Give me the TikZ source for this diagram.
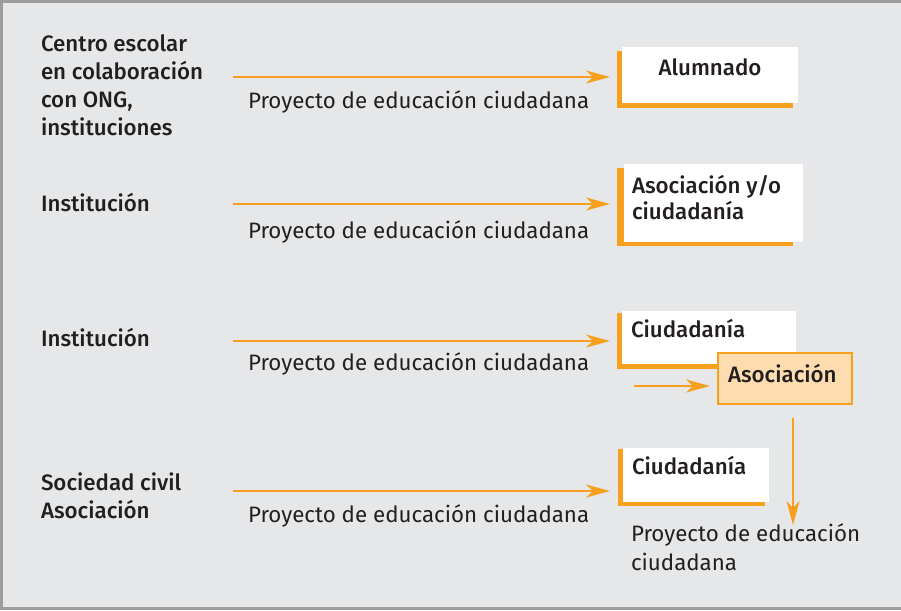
\documentclass[tikz,border=0pt]{standalone}
\usepackage{fontspec}
\setmainfont{Fira Sans}[BoldFont={Fira Sans Medium}]
\usetikzlibrary{arrows.meta}
\definecolor{org}{HTML}{F6A01E}
\definecolor{bg}{HTML}{E6E7E8}
\definecolor{frm}{HTML}{9D9D9D}
\definecolor{asoc}{HTML}{FDDCAF}
\definecolor{txt}{HTML}{231F20}
\newcommand\stk[1]{\begin{tabular}[t]{@{}l@{}}#1\end{tabular}}
\begin{document}
\begin{tikzpicture}[x=1pt,y=-1pt,
 every node/.style={inner sep=0pt, outer sep=0pt, text=txt, font=\fontsize{22.3}{28}\selectfont},
 lbl/.style={anchor=base west, font=\fontsize{22.3}{28}\selectfont\bfseries},
 btxt/.style={font=\fontsize{22.3}{26}\selectfont\bfseries},
 proj/.style={anchor=base west},
 box/.style={fill=white, anchor=north west},
 shade/.style={fill=org},
 flow/.style={draw=org, line width=2pt, -{Stealth[length=24pt,width=13pt,inset=7pt]}},
]
\useasboundingbox (0,0) rectangle (901,610);
\fill[bg] (0,0) rectangle (901,610);
\draw[frm, line width=3pt] (901,1.5) -- (1.5,1.5) -- (1.5,608.5) -- (901,608.5);

% boxes
\fill[shade] (617,51) rectangle (793,108);
\node[box, minimum width=176pt, minimum height=56pt] (b1) at (622,47) {};
\fill[shade] (617,168) rectangle (793,246);
\node[box, minimum width=179pt, minimum height=78pt] (b2) at (624,164) {};
\fill[shade] (617,313) rectangle (790,369);
\node[box, minimum width=174pt, minimum height=53pt] (b3) at (622,311) {};
\node[anchor=north west, fill=asoc, draw=org, line width=2.5pt, minimum width=134pt, minimum height=51pt] (asoc) at (718,353) {};
\fill[shade] (618,449) rectangle (765,506);
\node[box, minimum width=146pt, minimum height=54pt] (b4) at (623,448) {};

% box texts
\node[btxt, anchor=base] (t1) at (710,75) {Alumnado};
\node[btxt, anchor=base west] (t2) at (632,193) {\stk{Asociación y/o\\ciudadanía}};
\node[btxt, anchor=base west] (t3) at (631,337) {Ciudadanía};
\node[btxt, anchor=base west] (t4) at (728,382) {Asociación};
\node[btxt, anchor=base west] (t5) at (632,474) {Ciudadanía};
\node[anchor=base west, font=\fontsize{22.3}{29}\selectfont] (p5) at (631,541) {\stk{Proyecto de educación\\ciudadana}};

% left labels
\node[lbl] (l1) at (41,52) {\stk{Centro escolar\\en colaboración\\con ONG,\\instituciones}};
\node[lbl] (l2) at (41,211) {Institución};
\node[lbl] (l3) at (41,346) {Institución};
\node[lbl] (l4) at (41,490) {\stk{Sociedad civil\\Asociación}};

% project labels
\node[proj] (p1) at (248,108) {Proyecto de educación ciudadana};
\node[proj] (p2) at (248,238) {Proyecto de educación ciudadana};
\node[proj] (p3) at (248,370) {Proyecto de educación ciudadana};
\node[proj] (p4) at (248,522) {Proyecto de educación ciudadana};

% arrows
\coordinate (s1) at (233,77);
\coordinate (s2) at (233,204);
\coordinate (s3) at (233,341);
\coordinate (s4) at (233,491);
\draw[flow, shorten >=12pt] (s1) -- (s1 -| b1.west);
\draw[flow, shorten >=14pt] (s2) -- (s2 -| b2.west);
\draw[flow, shorten >=12pt] (s3) -- (s3 -| b3.west);
\draw[flow, shorten >=13pt] (s4) -- (s4 -| b4.west);
\coordinate (s5) at (634,386);
\draw[flow, shorten >=8pt] (s5) -- (s5 -| asoc.west);
\coordinate (v1) at (793,418);
\coordinate (v2) at (793,525);
\draw[flow] (v1) -- (v2);
\end{tikzpicture}
\end{document}
